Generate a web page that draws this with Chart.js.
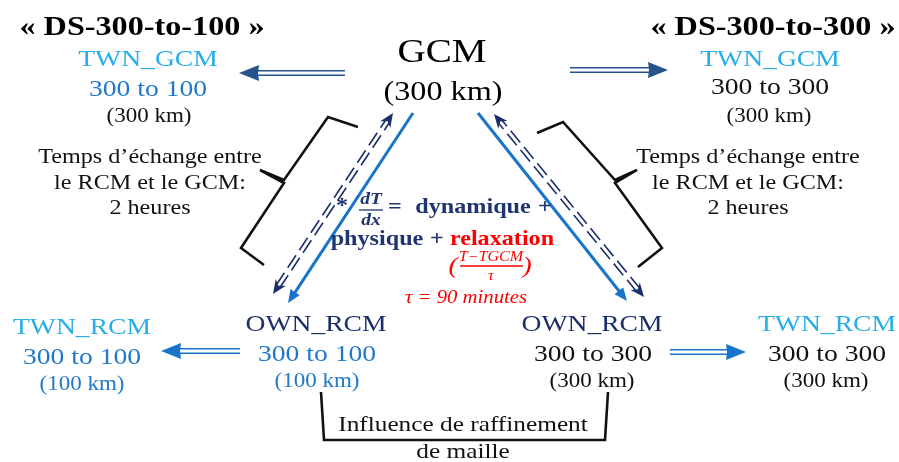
<!DOCTYPE html>
<html>
<head>
<meta charset="utf-8">
<title>GCM / RCM downscaling scheme</title>
<script src="https://cdn.jsdelivr.net/npm/chart.js"></script>
<style>
    html, body {
        margin: 0;
        padding: 0;
        background: #fff;
    }
    #wrap {
        width: 899px;
        height: 462px;
        position: relative;
    }
</style>
</head>
<body>
<div id="wrap"><canvas id="scheme"></canvas></div>
<script>
// diagram units: x 0..899 to the right, y 0..462 going down

// text blocks
var labelText = [
    '« DS-300-to-100 »', '« DS-300-to-300 »',
    'TWN_GCM', '300 to 100', '(300 km)',
    'TWN_GCM', '300 to 300', '(300 km)',
    'GCM', '(300 km)',
    'Temps d’échange entre', 'le RCM et le GCM:', '2 heures',
    'Temps d’échange entre', 'le RCM et le GCM:', '2 heures',
    '*', 'dT', 'dx', '=', 'dynamique', '+',
    'physique', '+', 'relaxation',
    '(', 'T−TGCM', 'τ', ')', 'τ = 90 minutes',
    'TWN_RCM', '300 to 100', '(100 km)',
    'OWN_RCM', '300 to 100', '(100 km)',
    'OWN_RCM', '300 to 300', '(300 km)',
    'TWN_RCM', '300 to 300', '(300 km)',
    'Influence de raffinement', 'de maille'
];
var labelX = [
    142, 773,
    148, 148, 149,
    770, 770, 769,
    442, 443,
    150, 150, 150,
    748, 748, 748,
    342, 371, 371, 395, 473, 545,
    377, 437, 502,
    453, 491, 491, 527, 466,
    82, 82, 82,
    316, 317, 317,
    592, 593, 592,
    827, 827, 826,
    463, 463
];
var labelY = [
    28, 28,
    60, 90, 117,
    60, 88, 117,
    53, 93,
    157, 183, 208,
    157, 183, 208,
    207, 200, 221, 208, 208, 208,
    240, 240, 240,
    267, 257, 276, 267, 298,
    328, 358, 385,
    325, 355, 382,
    325, 355, 382,
    325, 355, 382,
    425, 452
];
var labelRole = [
    'title', 'title',
    'twn', 'blue', 'km',
    'twn', 'black', 'km',
    'gcm', 'gcmKm',
    'note', 'note', 'note',
    'note', 'note', 'note',
    'star', 'deriv', 'deriv', 'eq', 'eq', 'eq',
    'eq', 'eq', 'eqRed',
    'paren', 'frac', 'frac', 'paren', 'tau',
    'twn', 'blue', 'kmBlue',
    'own', 'blue', 'kmBlue',
    'own', 'black', 'km',
    'twn', 'black', 'km',
    'note2', 'note2'
];

// fraction bars (dT/dx and (T-TGCM)/tau)
var barFrom = [[359, 210], [460, 266]];
var barTo = [[383, 210], [523, 266]];
var barRole = ['navy', 'red'];

// downscaling arrows (double line, one head)
var transferFrom = [[345, 73], [570, 70], [240, 351], [670, 352]];
var transferTo = [[239, 73], [668, 70], [161, 351], [746, 352]];
var transferRole = ['navy', 'navy', 'blue', 'blue'];

// GCM -> RCM forcing (solid line, one head)
var forcingFrom = [[413, 113], [478, 113]];
var forcingTo = [[288, 303], [627, 301]];

// RCM <-> GCM exchange (dashed double line, two heads)
var exchangeFrom = [[273, 294], [644, 297]];
var exchangeTo = [[393, 113], [494, 114]];

// brackets
var braceLeft = [[358, 127], [328, 117], [284, 180], [260, 170], [284, 183], [241, 248], [264, 265]];
var braceRight = [[537, 133], [563, 122], [615, 180], [637, 170], [615, 183], [662, 248], [638, 267]];
var braceBottom = [[321, 392], [324, 440], [605, 440], [608, 392]];

var serif = '"Liberation Serif", "Times New Roman", serif';
var stretch = 1.15;
var colors = {
    navy: '#24548a',
    blue: '#1a74c9',
    dark: '#1c2f6c',
    red: '#ff0000'
};
var roleStyle = {
    title: { font: 'bold 28px ' + serif, color: '#000' },
    twn: { font: '24px ' + serif, color: '#27aee8' },
    blue: { font: '24px ' + serif, color: '#1f78c8' },
    black: { font: '24px ' + serif, color: '#111' },
    km: { font: '20px ' + serif, color: '#111' },
    kmBlue: { font: '20px ' + serif, color: '#1f78c8' },
    own: { font: '24px ' + serif, color: '#1b2d6b' },
    gcm: { font: '34px ' + serif, color: '#000' },
    gcmKm: { font: '28px ' + serif, color: '#000' },
    note: { font: '21px ' + serif, color: '#111' },
    note2: { font: '22px ' + serif, color: '#111' },
    star: { font: 'bold 21px ' + serif, color: '#1f3570' },
    deriv: { font: 'bold italic 17px ' + serif, color: '#1f3570' },
    eq: { font: 'bold 21px ' + serif, color: '#1f3570' },
    eqRed: { font: 'bold 21px ' + serif, color: '#ff0000' },
    paren: { font: 'italic 24px ' + serif, color: '#ff0000' },
    frac: { font: 'italic 14px ' + serif, color: '#ff0000' },
    tau: { font: 'italic 18px ' + serif, color: '#ff0000' }
};

function toPoints(list) {
    return list.map(function(p) { return { x: p[0], y: p[1] }; });
}

function arrowHead(ctx, tip, from, len, half, notch, color) {
    var ang = Math.atan2(tip[1] - from[1], tip[0] - from[0]);
    ctx.save();
    ctx.translate(tip[0], tip[1]);
    ctx.rotate(ang);
    ctx.beginPath();
    ctx.moveTo(0, 0);
    ctx.lineTo(-len, -half);
    ctx.lineTo(-len * (1 - notch), 0);
    ctx.lineTo(-len, half);
    ctx.closePath();
    ctx.fillStyle = color;
    ctx.fill();
    ctx.restore();
}

function shaft(ctx, a, b, gap, width, color, dash) {
    var dx = b[0] - a[0], dy = b[1] - a[1];
    var L = Math.hypot(dx, dy);
    var nx = -dy / L * gap / 2, ny = dx / L * gap / 2;
    ctx.save();
    ctx.strokeStyle = color;
    ctx.lineWidth = width;
    ctx.setLineDash(dash || []);
    var sides = gap > 0 ? [1, -1] : [0];
    sides.forEach(function(s) {
        ctx.beginPath();
        ctx.moveTo(a[0] + s * nx, a[1] + s * ny);
        ctx.lineTo(b[0] + s * nx, b[1] + s * ny);
        ctx.stroke();
    });
    ctx.restore();
}

// point along a->b, d pixels back from b
function back(a, b, d) {
    var dx = b[0] - a[0], dy = b[1] - a[1];
    var L = Math.hypot(dx, dy);
    return [b[0] - dx / L * d, b[1] - dy / L * d];
}

var schemePlugin = {
    id: 'scheme',
    afterDatasetsDraw: function(chart) {
        var ctx = chart.ctx;
        var xs = chart.scales.x, ys = chart.scales.y;
        var px = function(p) { return [xs.getPixelForValue(p[0]), ys.getPixelForValue(p[1])]; };

        // solid forcing lines
        for (var i = 0; i < forcingFrom.length; i++) {
            var a = px(forcingFrom[i]), b = px(forcingTo[i]);
            shaft(ctx, a, back(a, b, 8), 0, 3, colors.blue);
            arrowHead(ctx, b, a, 13, 5.5, 0, colors.blue);
        }

        // dashed exchange arrows
        for (var j = 0; j < exchangeFrom.length; j++) {
            var p = px(exchangeFrom[j]), q = px(exchangeTo[j]);
            shaft(ctx, back(q, p, 9), back(p, q, 9), 4.5, 1.6, colors.dark, [15, 6]);
            arrowHead(ctx, p, q, 14, 6, 0.3, colors.dark);
            arrowHead(ctx, q, p, 14, 6, 0.3, colors.dark);
        }

        // double-line transfer arrows
        for (var k = 0; k < transferFrom.length; k++) {
            var s = px(transferFrom[k]), t = px(transferTo[k]);
            var c = colors[transferRole[k]];
            shaft(ctx, s, back(s, t, 16), 4.5, 1.6, c);
            arrowHead(ctx, t, s, 20, 8, 0.05, c);
        }

        // fraction bars
        for (var m = 0; m < barFrom.length; m++) {
            shaft(ctx, px(barFrom[m]), px(barTo[m]), 0, 1.3, barRole[m] === 'red' ? colors.red : '#1f3570');
        }

        // text
        ctx.save();
        ctx.textAlign = 'center';
        ctx.textBaseline = 'middle';
        for (var n = 0; n < labelText.length; n++) {
            var st = roleStyle[labelRole[n]];
            var pos = px([labelX[n], labelY[n]]);
            ctx.save();
            ctx.translate(pos[0], pos[1]);
            ctx.scale(stretch, 1);
            ctx.font = st.font;
            ctx.fillStyle = st.color;
            ctx.fillText(labelText[n], 0, 0);
            ctx.restore();
        }
        ctx.restore();
    }
};

function braceSet(list) {
    return {
        data: toPoints(list),
        showLine: true,
        fill: false,
        borderColor: '#111',
        borderWidth: 2.6,
        borderJoinStyle: 'miter',
        pointRadius: 0,
        tension: 0
    };
}

new Chart(document.getElementById('scheme'), {
    type: 'scatter',
    data: {
        datasets: [braceSet(braceLeft), braceSet(braceRight), braceSet(braceBottom)]
    },
    options: {
        responsive: true,
        maintainAspectRatio: false,
        animation: false,
        events: [],
        layout: { padding: 0 },
        scales: {
            x: { type: 'linear', min: 0, max: 899, display: false },
            y: { type: 'linear', min: 0, max: 462, reverse: true, display: false }
        },
        plugins: {
            legend: { display: false },
            tooltip: { enabled: false }
        }
    },
    plugins: [schemePlugin]
});
</script>
</body>
</html>
